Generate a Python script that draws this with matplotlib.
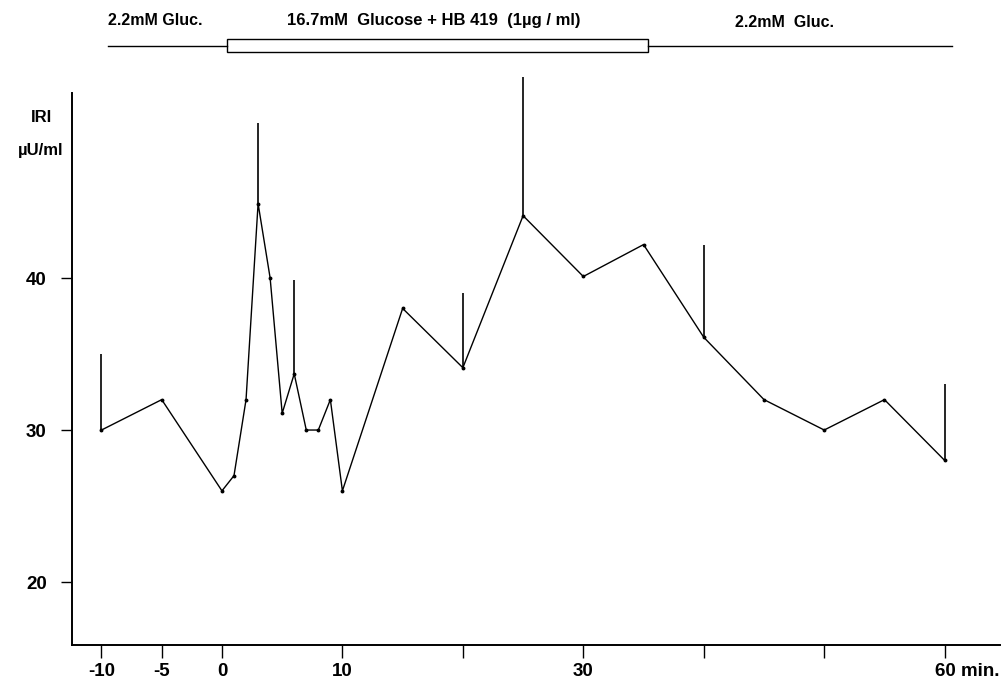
import matplotlib
matplotlib.use("Agg")
import matplotlib.pyplot as plt
import matplotlib.transforms as mtransforms
from matplotlib.patches import Rectangle

plt.rcParams['font.family'] = ['Liberation Sans', 'DejaVu Sans']

# IRI (insulin) over time, minutes relative to start of stimulation
time_min = [-10, -5, 0, 1, 2, 3, 4, 5, 6, 7, 8, 9, 10, 15, 20, 25, 30, 35, 40, 45, 50, 55, 60]
iri = [30, 32, 26, 27, 32, 44.9, 40, 31.1, 33.7, 30, 30, 32, 26, 38, 34.1, 44.1, 40.1, 42.2, 36.1, 32, 30, 32, 28]

# one-sided (upper) error bars
err_time = [-10, 3, 6, 20, 25, 40, 60]
err_mean = [30, 44.9, 33.7, 34.1, 44.1, 36.1, 28]
err_top = [35, 50.2, 39.9, 39, 53.2, 42.2, 33]

x_ticks = [-10, -5, 0, 10, 20, 30, 40, 50, 60]
x_labels = ["-10", "-5", "0", "10", "", "30", "", "", "60 min."]
y_ticks = [20, 30, 40]

fig = plt.figure(figsize=(10.02, 6.78), dpi=100)
ax = fig.add_axes([0.0716, 0.0487, 0.9265, 0.8363])

ax.plot(time_min, iri, color="black", lw=1.0, marker="o", ms=1.8, zorder=3)
ax.vlines(err_time, err_mean, err_top, color="black", lw=1.2, clip_on=False)

ax.set_xlim(-12.47, 64.6)
ax.set_ylim(15.86, 53.16)

for side in ["top", "right"]:
    ax.spines[side].set_visible(False)
ax.spines["left"].set_bounds(15.86, 52.2)
ax.spines["left"].set_linewidth(1.4)
ax.spines["bottom"].set_linewidth(1.4)

ax.set_xticks(x_ticks)
ax.set_xticklabels(x_labels, fontsize=13.5, fontweight="bold")
ax.set_yticks(y_ticks)
ax.set_yticklabels([str(v) for v in y_ticks], fontsize=13.5, fontweight="bold")
ax.tick_params(axis="x", direction="out", length=9, width=1.0, pad=4)
ax.tick_params(axis="y", direction="out", length=8, width=1.0, pad=10)

# "60 min." : keep the number over its tick
last = ax.get_xticklabels()[-1]
last.set_horizontalalignment("left")
last.set_transform(last.get_transform() +
                   mtransforms.ScaledTranslation(-10 / 100, 0, fig.dpi_scale_trans))

fig.text(52 / 1002, 1 - 117 / 678, "IRI", ha="right", va="center",
         fontsize=12, fontweight="bold")
fig.text(63 / 1002, 1 - 150 / 678, "\u00b5U/ml", ha="right", va="center",
         fontsize=12, fontweight="bold")

# incubation protocol bar along the top
trans = mtransforms.blended_transform_factory(ax.transData, fig.transFigure)
ax.plot([-9.5, 0.4], [0.932, 0.932], color="black", lw=1.0, transform=trans, clip_on=False)
ax.plot([35.4, 60.6], [0.932, 0.932], color="black", lw=1.0, transform=trans, clip_on=False)
box = Rectangle((0.4, 0.923), 35.0, 0.0195, transform=trans, fill=False,
                edgecolor="black", lw=1.0, clip_on=False)
ax.add_patch(box)
ax.text(-9.5, 0.970, "2.2mM Gluc.", transform=trans, ha="left", va="center",
        fontsize=11.5, fontweight="bold")
ax.text(5.4, 0.970, "16.7mM  Glucose + HB 419  (1\u00b5g / ml)", transform=trans,
        ha="left", va="center", fontsize=12, fontweight="bold")
ax.text(42.6, 0.967, "2.2mM  Gluc.", transform=trans, ha="left", va="center",
        fontsize=11.5, fontweight="bold")

fig.savefig("out.png", dpi=100)
